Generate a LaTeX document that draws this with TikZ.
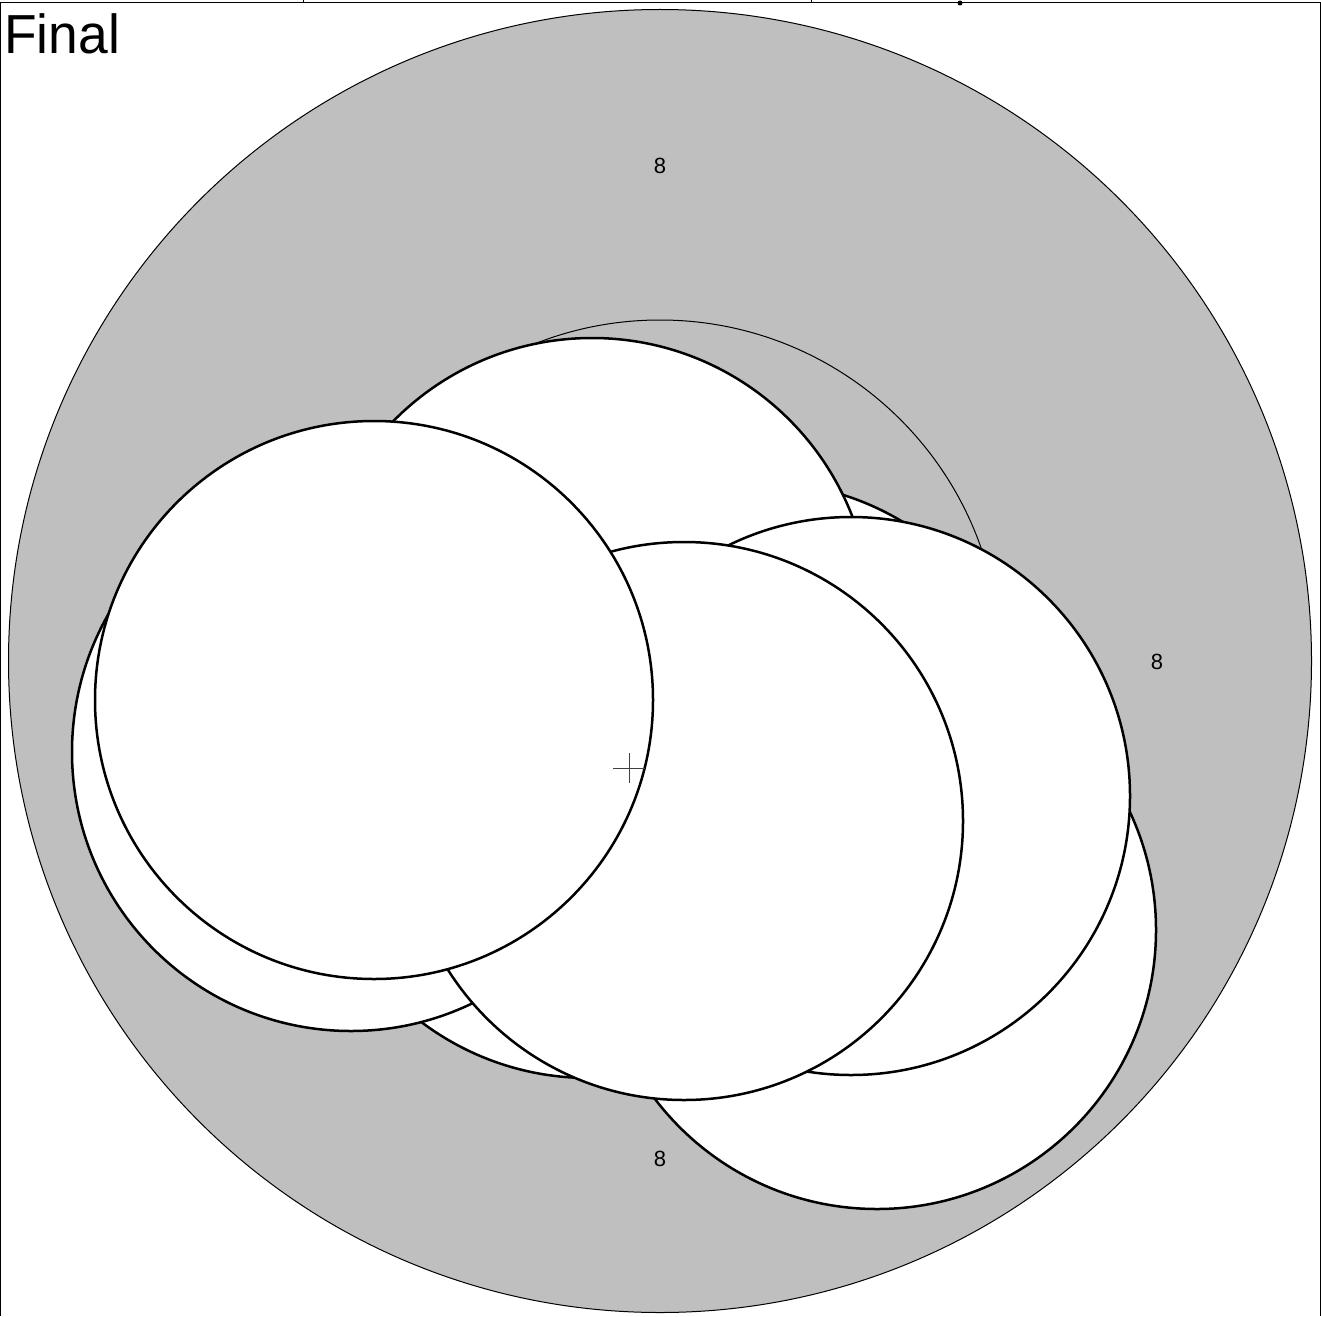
\documentclass[tikz,border=0pt]{standalone}
\usepackage{fontspec}
\setmainfont{Liberation Sans}
\begin{document}
\begin{tikzpicture}[x=0.5pt,y=-0.5pt,
  disc/.style={draw=black,fill=white,line width=1.25pt},
  lbl/.style={font=\fontsize{11pt}{12pt}\selectfont,inner sep=0pt}]
\useasboundingbox (0,0) rectangle (1321,1316);
% frame
\draw[line width=0.6pt] (0.5,1316) -- (0.5,2.5) -- (1320.5,2.5) -- (1320.5,1316);
\draw[line width=0.5pt] (303,0) -- (303,2.5) (811,0) -- (811,2.5);
\fill (960,3) circle (2.5);
% outer disc
\draw[fill={rgb,255:red,191;green,191;blue,191},line width=0.5pt] (660,661) circle (651.5);
% thin circle
\draw[line width=0.5pt] (660,660) circle (340);
% white discs, bottom to top
\draw[disc] (759,761) circle (279);
\draw[disc] (589,799) circle (279);
\draw[disc] (877,930) circle (279);
\draw[disc] (592,617) circle (279);
\draw[disc] (351,752) circle (279);
\draw[disc] (851,796) circle (279);
\draw[disc] (684,821) circle (279);
\draw[disc] (374,700) circle (279);
% cross
\draw[line width=0.5pt,black!75] (613,768) -- (645,768) (629,753) -- (629,783);
% labels
\node[lbl] (t) at (660,166) {8};
\node[lbl] (r) at (1157,662) {8};
\node[lbl] (b) at (660,1159) {8};
\node[font=\fontsize{27.5pt}{32pt}\selectfont,anchor=north west,inner sep=0pt,xscale=0.97] (title) at (4,13) {Final};
\end{tikzpicture}
\end{document}
